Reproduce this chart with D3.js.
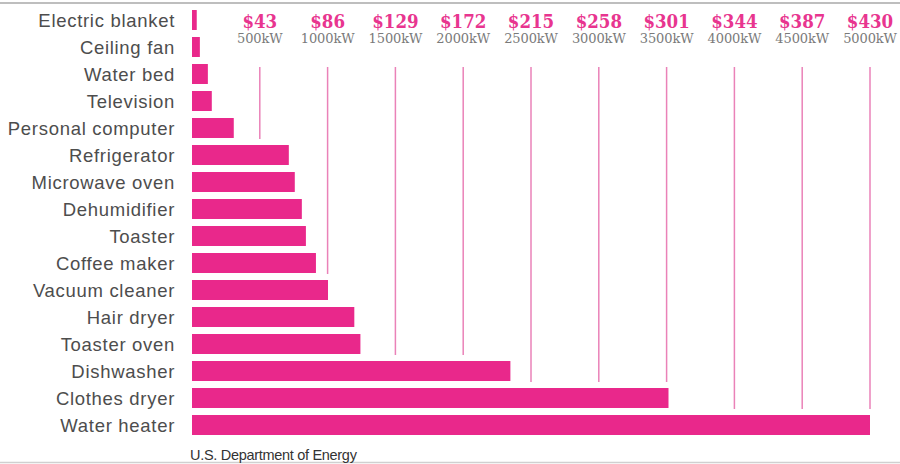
<!DOCTYPE html>
<html>
<head>
<meta charset="utf-8">
<script src="https://cdn.jsdelivr.net/npm/d3@7"></script>
<style>
  html, body { margin: 0; padding: 0; background: #fff; }
  svg { display: block; }
</style>
</head>
<body>
<div class="charts-div"></div>
<script>
const appliances = [
    "Electric blanket", "Ceiling fan", "Water bed", "Television", "Personal computer",
    "Refrigerator", "Microwave oven", "Dehumidifier", "Toaster", "Coffee maker",
    "Vacuum cleaner", "Hair dryer", "Toaster oven", "Dishwasher", "Clothes dryer", "Water heater"
];
// annual use in kW(h)
const usage = [35, 58, 117, 146, 308, 714, 758, 810, 840, 914, 1003, 1197, 1242, 2348, 3514, 5000];
const tickValues = [500, 1000, 1500, 2000, 2500, 3000, 3500, 4000, 4500, 5000];
const costLabels = ["$43", "$86", "$129", "$172", "$215", "$258", "$301", "$344", "$387", "$430"];
const source = "U.S. Department of Energy";

const width = 900, height = 464;
const pink = "#e9288b";

const svg = d3.select(".charts-div").append("svg")
    .attr("width", width)
    .attr("height", height);

// frame lines top / bottom
svg.append("line").attr("x1", 0).attr("x2", width).attr("y1", 3).attr("y2", 3)
    .attr("stroke", "#a8a8a8").attr("stroke-width", 1.5);
svg.append("line").attr("x1", 0).attr("x2", width).attr("y1", 462.5).attr("y2", 462.5)
    .attr("stroke", "#d0d0d0").attr("stroke-width", 1.5);

const x = d3.scaleLinear().domain([0, 5000]).range([192, 870]);
const y = d3.scaleBand().domain(appliances).range([6.5, 438.5]).paddingInner(0.26).paddingOuter(0.13);

// gridlines stop above the first bar that reaches them
const gridBottom = (t) => {
    const i = usage.findIndex((v) => v >= t);
    const prev = appliances[Math.max(0, i - 1)];
    return y(prev) + y.bandwidth() + 1;
};

svg.append("g")
    .selectAll("line")
    .data(tickValues)
    .join("line")
    .attr("x1", (d) => x(d))
    .attr("x2", (d) => x(d))
    .attr("y1", 67)
    .attr("y2", (d) => gridBottom(d))
    .attr("stroke", "#ea82b8")
    .attr("stroke-width", 1.5);

svg.append("g")
    .selectAll("rect")
    .data(usage)
    .join("rect")
    .attr("x", x(0))
    .attr("y", (d, i) => y(appliances[i]))
    .attr("width", (d) => x(d) - x(0))
    .attr("height", y.bandwidth())
    .attr("fill", pink);

// category labels
svg.append("g")
    .selectAll("text")
    .data(appliances)
    .join("text")
    .attr("x", 175)
    .attr("y", (d) => y(d) + y.bandwidth() / 2)
    .attr("dy", "0.36em")
    .attr("text-anchor", "end")
    .attr("font-family", "'Liberation Sans', Arial, sans-serif")
    .attr("font-size", 18.5)
    .attr("letter-spacing", 0.7)
    .attr("fill", "#4d4d4d")
    .text((d) => d);

// cost + kW tick labels
const ticks = svg.append("g")
    .selectAll("g")
    .data(tickValues)
    .join("g")
    .attr("transform", (d) => `translate(${x(d)},0)`);

ticks.append("text")
    .attr("y", 28)
    .attr("text-anchor", "middle")
    .attr("font-family", "'DejaVu Serif Condensed', 'DejaVu Serif', serif")
    .attr("font-size", 18.5)
    .attr("font-weight", "bold")
    .attr("fill", "#e8358f")
    .text((d, i) => costLabels[i]);

ticks.append("text")
    .attr("y", 43)
    .attr("text-anchor", "middle")
    .attr("font-family", "'DejaVu Serif', serif")
    .attr("font-size", 13)
    .attr("letter-spacing", -0.1)
    .attr("fill", "#7a7a7a")
    .text((d) => `${d}kW`);

svg.append("text")
    .attr("x", 190)
    .attr("y", 460)
    .attr("font-family", "'Liberation Sans', Arial, sans-serif")
    .attr("font-size", 14.5)
    .attr("letter-spacing", -0.3)
    .attr("fill", "#333")
    .text(source);
</script>
</body>
</html>
